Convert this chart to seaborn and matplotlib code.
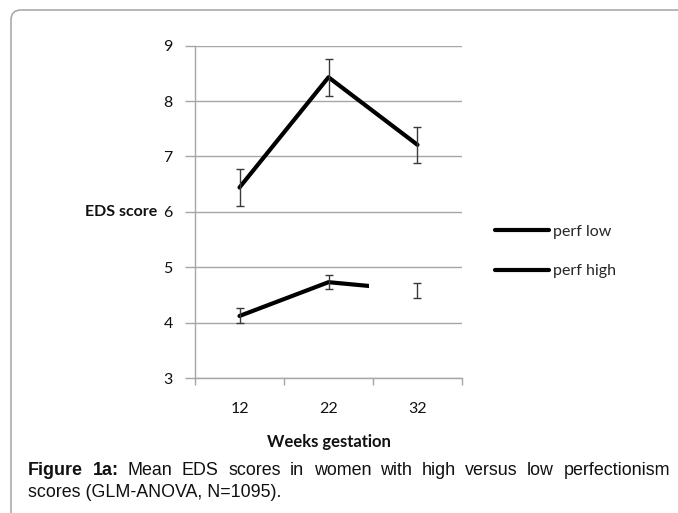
import numpy as np
import pandas as pd
import matplotlib
matplotlib.use('Agg')
import matplotlib.pyplot as plt
import seaborn as sns
from matplotlib.patches import FancyBboxPatch, Rectangle
from matplotlib.transforms import IdentityTransform

# --- 1. Values ---
weeks = ['12', '22', '32']
groups = ['perf low', 'perf high']
perf_low = [6.44, 8.43, 7.21]
perf_low_err = [0.33, 0.33, 0.33]
perf_high = [4.12, 4.73, 4.58]
perf_high_err = [0.135, 0.13, 0.13]

caption_1 = [('Figure', 'bold'), ('1a:', 'bold'), ('Mean', 'normal'), ('EDS', 'normal'),
             ('scores', 'normal'), ('in', 'normal'), ('women', 'normal'), ('with', 'normal'),
             ('high', 'normal'), ('versus', 'normal'), ('low', 'normal'), ('perfectionism', 'normal')]
caption_2 = 'scores (GLM-ANOVA, N=1095).'

df = pd.DataFrame({
    'week': weeks * 2,
    'pos': list(range(len(weeks))) * 2,
    'score': perf_low + perf_high,
    'err': perf_low_err + perf_high_err,
    'group': [groups[0]] * len(weeks) + [groups[1]] * len(weeks),
})

# --- 2. Style ---
sns.set_theme(style='white')
plt.rcParams['font.family'] = ['Lato', 'DejaVu Sans']
grid_col = '#a6a6a6'
W, H = 678, 513

fig = plt.figure(figsize=(W / 100, H / 100), dpi=100)
ax = fig.add_axes([195 / W, 1 - 378 / H, 267 / W, 332.3 / H])

# --- 3. Lines + error bars ---
sns.lineplot(data=df, x='pos', y='score', hue='group', hue_order=groups,
             palette=['black', 'black'], linewidth=3, solid_capstyle='round',
             legend=False, ax=ax)
for g in groups:
    sub = df[df['group'] == g]
    ax.errorbar(sub['pos'], sub['score'], yerr=sub['err'], fmt='none',
                ecolor='#3a3a3a', elinewidth=1, capsize=3.2, capthick=1, zorder=3)

# the "perf high" line stops short of the 32-week point in the original
cut = Rectangle((-0.5, 0), 1.96, 10, transform=ax.transData)
ax.lines[1].set_clip_path(cut)

# --- 4. Axes ---
ax.set_xlim(-0.5, 2.5)
ax.set_ylim(3, 9)
ax.set_yticks(range(3, 10))
ax.yaxis.grid(True, color=grid_col, lw=1)
ax.set_axisbelow(True)
ax.set_xticks([-0.5, 0.5, 1.5, 2.5])
ax.set_xticklabels([])
ax.set_xticks(range(len(weeks)), minor=True)
ax.set_xticklabels(weeks, minor=True)
ax.tick_params(axis='x', which='major', bottom=True, length=5, width=1, color=grid_col)
ax.tick_params(axis='x', which='minor', bottom=True, length=0, pad=17, labelsize=11.5, labelcolor='#111111')
ax.tick_params(axis='y', left=True, length=7, width=1, color=grid_col, pad=9,
               labelsize=11.5, labelcolor='#111111')
for s in ['top', 'right']:
    ax.spines[s].set_visible(False)
for s in ['left', 'bottom']:
    ax.spines[s].set_color(grid_col)
    ax.spines[s].set_linewidth(1)
ax.set_xlabel('')
ax.set_ylabel('')

fig.text(157 / W, 1 - 212 / H, 'EDS score', ha='right', va='center',
         weight='bold', size=11.5, color='#111111')
fig.text(328.5 / W, 1 - 442 / H, 'Weeks gestation', ha='center', va='center',
         weight='bold', size=12, color='#111111')

# --- 5. Legend ---
ax.legend(handles=ax.lines[:2], labels=groups, loc='center left',
          bbox_to_anchor=(495 / W, 1 - 251.5 / H), bbox_transform=fig.transFigure,
          frameon=False, fontsize=11.5, handlelength=3.4, handletextpad=0.25,
          labelspacing=1.6, borderpad=0, borderaxespad=0)

# --- 6. Frame + caption ---
pix = IdentityTransform()
frame = FancyBboxPatch((11, -30), 720, H - 10 + 30, boxstyle='round,pad=0,rounding_size=10',
                       transform=pix, fc='none', ec='#aaaaaa', lw=1.2)
fig.add_artist(frame)

renderer = fig.canvas.get_renderer()
cap_kw = dict(family='Liberation Sans', size=12.9, color='#111111', va='baseline', transform=pix)
x0, x1, y1 = 28, 670, H - 475
texts = [fig.text(0, y1, w, weight=wt, **cap_kw) for w, wt in caption_1]
widths = [t.get_window_extent(renderer).width for t in texts]
gap = (x1 - x0 - sum(widths)) / (len(texts) - 1)
x = x0
for t, w in zip(texts, widths):
    t.set_x(x)
    x += w + gap
fig.text(x0, H - 497, caption_2, **cap_kw)

fig.savefig('out.png', dpi=100)
